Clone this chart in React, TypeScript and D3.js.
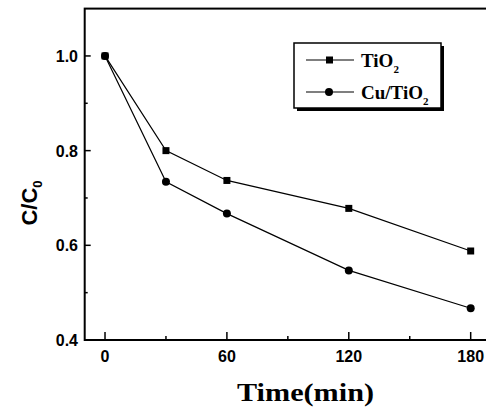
import React, { useEffect, useRef } from "react";
import * as d3 from "d3";

const times = [0, 30, 60, 120, 180];
const tio2 = [1.0, 0.8, 0.737, 0.678, 0.588];
const cuTio2 = [1.0, 0.734, 0.667, 0.547, 0.467];
const xTicks = [0, 60, 120, 180];
const xMinor = [30, 90, 150];
const yTicks = [0.4, 0.6, 0.8, 1.0];
const yMinor = [0.5, 0.7, 0.9];

const W = 486;
const H = 409;
const sans = "'Liberation Sans', Arial, sans-serif";
const serif = "'Liberation Serif', 'Times New Roman', serif";

export default function App() {
  const ref = useRef<SVGSVGElement>(null);

  useEffect(() => {
    const svg = d3.select(ref.current);
    svg.selectAll("*").remove();

    var x = d3.scaleLinear().domain([-10, 190]).range([84.7, 491]);
    var y = d3.scaleLinear().domain([0.4, 1.1]).range([340, 8.6]);

    // frame (right side falls outside the window)
    svg
      .append("rect")
      .attr("x", x(-10))
      .attr("y", y(1.1))
      .attr("width", x(190) - x(-10))
      .attr("height", y(0.4) - y(1.1))
      .attr("fill", "none")
      .attr("stroke", "#000")
      .attr("stroke-width", 2);

    // x ticks, inward
    svg
      .selectAll(".xt")
      .data(xTicks)
      .enter()
      .append("line")
      .attr("x1", (d) => x(d))
      .attr("x2", (d) => x(d))
      .attr("y1", y(0.4))
      .attr("y2", y(0.4) - 8)
      .attr("stroke", "#000")
      .attr("stroke-width", 1.5);
    svg
      .selectAll(".xm")
      .data(xMinor)
      .enter()
      .append("line")
      .attr("x1", (d) => x(d))
      .attr("x2", (d) => x(d))
      .attr("y1", y(0.4))
      .attr("y2", y(0.4) - 4)
      .attr("stroke", "#000")
      .attr("stroke-width", 1.5);
    svg
      .selectAll(".xl")
      .data(xTicks)
      .enter()
      .append("text")
      .attr("x", (d) => x(d))
      .attr("y", 362)
      .attr("text-anchor", "middle")
      .attr("font-family", sans)
      .attr("font-weight", "bold")
      .attr("font-size", 16)
      .text((d) => d);

    // y ticks, inward
    svg
      .selectAll(".yt")
      .data(yTicks)
      .enter()
      .append("line")
      .attr("x1", x(-10))
      .attr("x2", x(-10) + 6)
      .attr("y1", (d) => y(d))
      .attr("y2", (d) => y(d))
      .attr("stroke", "#000")
      .attr("stroke-width", 1.5);
    svg
      .selectAll(".ym")
      .data(yMinor)
      .enter()
      .append("line")
      .attr("x1", x(-10))
      .attr("x2", x(-10) + 3)
      .attr("y1", (d) => y(d))
      .attr("y2", (d) => y(d))
      .attr("stroke", "#000")
      .attr("stroke-width", 1.5);
    svg
      .selectAll(".yl")
      .data(yTicks)
      .enter()
      .append("text")
      .attr("x", 78)
      .attr("y", (d) => y(d) + 6)
      .attr("text-anchor", "end")
      .attr("font-family", sans)
      .attr("font-weight", "bold")
      .attr("font-size", 16)
      .text((d) => d.toFixed(1));

    // axis titles
    var yt = svg
      .append("text")
      .attr("transform", "translate(37,203) rotate(-90)")
      .attr("text-anchor", "middle")
      .attr("font-family", sans)
      .attr("font-weight", "bold")
      .attr("font-size", 22);
    yt.append("tspan").text("C/C");
    yt.append("tspan").attr("font-size", 13).attr("dy", 5).text("0");

    svg
      .append("text")
      .attr("x", 237)
      .attr("y", 401)
      .attr("font-family", serif)
      .attr("font-weight", "bold")
      .attr("font-size", 25)
      .attr("textLength", 137)
      .attr("lengthAdjust", "spacingAndGlyphs")
      .text("Time(min)");

    // series
    var line = d3
      .line<number>()
      .x((d, i) => x(times[i]))
      .y((d) => y(d));

    [tio2, cuTio2].forEach((s) => {
      svg
        .append("path")
        .attr("d", line(s))
        .attr("fill", "none")
        .attr("stroke", "#000")
        .attr("stroke-width", 1.2);
    });

    svg
      .selectAll(".sq")
      .data(tio2)
      .enter()
      .append("rect")
      .attr("x", (d, i) => x(times[i]) - 3.5)
      .attr("y", (d) => y(d) - 3.5)
      .attr("width", 7)
      .attr("height", 7)
      .attr("fill", "#000");
    svg
      .selectAll(".ci")
      .data(cuTio2)
      .enter()
      .append("circle")
      .attr("cx", (d, i) => x(times[i]))
      .attr("cy", (d) => y(d))
      .attr("r", 4)
      .attr("fill", "#000");

    // legend with shadow
    var lg = svg.append("g");
    lg.append("rect")
      .attr("x", 297)
      .attr("y", 46)
      .attr("width", 147)
      .attr("height", 65)
      .attr("fill", "#000");
    lg.append("rect")
      .attr("x", 294)
      .attr("y", 43)
      .attr("width", 147)
      .attr("height", 65)
      .attr("fill", "#fff")
      .attr("stroke", "#000")
      .attr("stroke-width", 1.5);

    var rows = [
      { label: "TiO", cy: 60, shape: "square" },
      { label: "Cu/TiO", cy: 92, shape: "circle" }
    ];
    rows.forEach((r) => {
      lg.append("line")
        .attr("x1", 306)
        .attr("x2", 354)
        .attr("y1", r.cy)
        .attr("y2", r.cy)
        .attr("stroke", "#000")
        .attr("stroke-width", 1.2);
      if (r.shape === "square") {
        lg.append("rect")
          .attr("x", 326)
          .attr("y", r.cy - 3.5)
          .attr("width", 7)
          .attr("height", 7)
          .attr("fill", "#000");
      } else {
        lg.append("circle").attr("cx", 329).attr("cy", r.cy).attr("r", 4).attr("fill", "#000");
      }
      var t = lg
        .append("text")
        .attr("x", 361)
        .attr("y", r.cy + 7)
        .attr("font-family", serif)
        .attr("font-weight", "bold")
        .attr("font-size", 19);
      t.append("tspan").text(r.label);
      t.append("tspan").attr("font-size", 11).attr("dy", 6).text("2");
    });
  }, []);

  return (
    <svg
      ref={ref}
      width={W}
      height={H}
      style={{ position: "absolute", left: 0, top: 0, background: "#fff" }}
    />
  );
}
